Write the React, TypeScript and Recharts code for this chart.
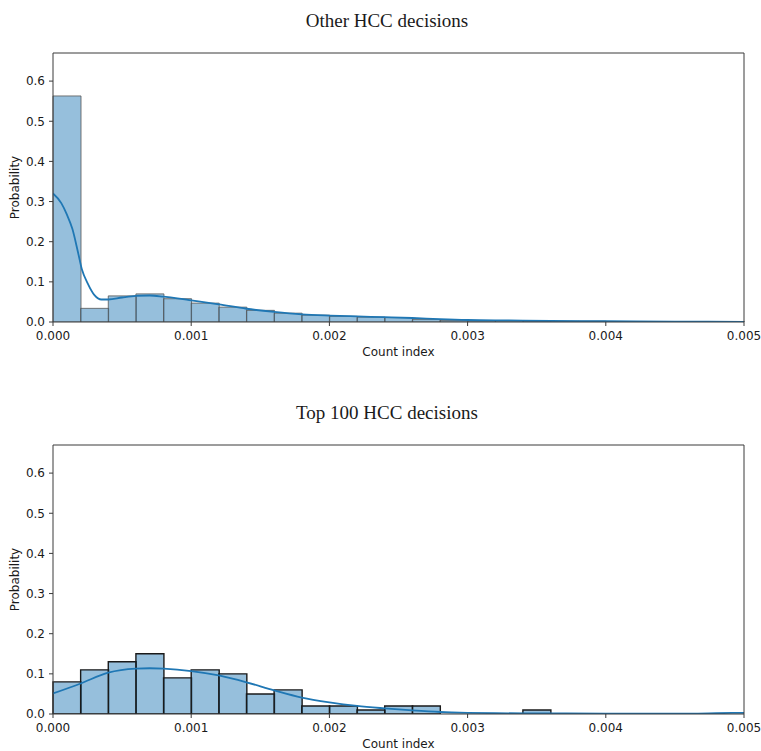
import React from 'react';
import { ComposedChart, Bar, Line, XAxis, YAxis } from 'recharts';

// histogram bins (left edges), width 0.0002
const binStarts = [
  0, 0.0002, 0.0004, 0.0006, 0.0008, 0.001, 0.0012, 0.0014, 0.0016, 0.0018,
  0.002, 0.0022, 0.0024, 0.0026, 0.0028, 0.003, 0.0032, 0.0034, 0.0036, 0.0038,
  0.004, 0.0042, 0.0044, 0.0046, 0.0048,
];

const otherHist = [
  0.563, 0.034, 0.065, 0.07, 0.058, 0.047, 0.037, 0.029, 0.022, 0.017,
  0.014, 0.012, 0.011, 0.006, 0.004, 0.003, 0.003, 0.002, 0.002, 0.002,
  0.001, 0.001, 0.001, 0.001, 0.001,
];

const top100Hist = [
  0.08, 0.11, 0.13, 0.15, 0.09, 0.11, 0.1, 0.05, 0.06, 0.02,
  0.02, 0.01, 0.02, 0.02, 0, 0, 0, 0.01, 0, 0,
  0, 0, 0, 0, 0,
];

// kde curves
const otherKdeX = [
  0, 0.00006, 0.0001, 0.00014, 0.00018, 0.00021, 0.00025, 0.0003, 0.00035, 0.0004,
  0.0005, 0.0006, 0.0007, 0.0008, 0.0009, 0.001, 0.0012, 0.0014, 0.0016, 0.0018,
  0.002, 0.0022, 0.0024, 0.0026, 0.0028, 0.003, 0.0033, 0.0036, 0.004, 0.0045, 0.005,
];
const otherKdeY = [
  0.32, 0.296, 0.268, 0.232, 0.175, 0.13, 0.097, 0.067, 0.056, 0.056,
  0.061, 0.065, 0.066, 0.063, 0.059, 0.054, 0.044, 0.033, 0.025, 0.019,
  0.016, 0.014, 0.012, 0.01, 0.007, 0.005, 0.004, 0.003, 0.002, 0.001, 0.0005,
];

const top100KdeX = [
  0, 0.0002, 0.0004, 0.0006, 0.0007, 0.0008, 0.001, 0.0012, 0.0014, 0.0016,
  0.0018, 0.002, 0.0022, 0.0024, 0.0026, 0.0028, 0.003, 0.0032, 0.0035, 0.004,
  0.0045, 0.0048, 0.005,
];
const top100KdeY = [
  0.051, 0.076, 0.103, 0.113, 0.114, 0.113, 0.107, 0.096, 0.079, 0.059,
  0.041, 0.029, 0.02, 0.014, 0.009, 0.005, 0.003, 0.002, 0.0015, 0.001,
  0.001, 0.002, 0.003,
];

const xTicks = [0, 0.001, 0.002, 0.003, 0.004, 0.005];
const yTicks = [0, 0.1, 0.2, 0.3, 0.4, 0.5, 0.6];

const W = 761;
const H = 362;
const FONT = '"DejaVu Sans", sans-serif';
const SPINE = '#3a3a3a';
const TEXT = '#1a1a1a';

const YLabel = (props: any) => {
  const vb = props.viewBox;
  const cx = vb.x + 15;
  const cy = vb.y + vb.height / 2;
  return (
    <text x={cx} y={cy} transform={`rotate(-90 ${cx} ${cy})`} textAnchor="middle"
      dominantBaseline="middle" fontFamily={FONT} fontSize={12} fill={TEXT}>
      Probability
    </text>
  );
};

const XLabel = (props: any) => {
  const vb = props.viewBox;
  return (
    <text x={vb.x + vb.width / 2} y={vb.y + 34} textAnchor="middle"
      fontFamily={FONT} fontSize={12} fill={TEXT}>
      Count index
    </text>
  );
};

type PanelProps = {
  title: string;
  hist: number[];
  kdeX: number[];
  kdeY: number[];
  edge: string;
  edgeWidth: number;
  top: number;
};

function Panel({ title, hist, kdeX, kdeY, edge, edgeWidth, top }: PanelProps) {
  const bars = binStarts.map((b, i) => ({ bin: b, p: hist[i] }));
  const kde = kdeX.map((x, i) => ({ x, y: kdeY[i] }));
  const tickStyle = { fontFamily: FONT, fontSize: 12, fill: TEXT };
  return (
    <div style={{ position: 'absolute', left: 0, top, width: W, height: 392 }}>
      <div style={{
        position: 'absolute', top: 10, left: 187, width: 400, textAlign: 'center',
        fontFamily: '"Liberation Serif", "Times New Roman", serif', fontSize: 19, color: TEXT,
      }}>
        {title}
      </div>
      <ComposedChart width={W} height={H} data={bars} barCategoryGap={0} barGap={0}
        margin={{ top: 52, right: 16, bottom: 0, left: 0 }}>
        <XAxis xAxisId="x" dataKey="x" type="number" domain={[0, 0.005]} allowDataOverflow
          ticks={xTicks} tickFormatter={(v: number) => v.toFixed(3)} height={40}
          tick={tickStyle} tickSize={4} tickMargin={5}
          axisLine={{ stroke: SPINE }} tickLine={{ stroke: SPINE }} label={XLabel} />
        {/* bin axis doubles as the top spine */}
        <XAxis xAxisId="bins" dataKey="bin" type="category" orientation="top" height={1}
          tick={false} tickLine={false} axisLine={{ stroke: SPINE }} />
        <YAxis yAxisId="p" type="number" domain={[0, 0.67]} allowDataOverflow ticks={yTicks}
          tickFormatter={(v: number) => v.toFixed(1)} width={53}
          tick={tickStyle} tickSize={4} tickMargin={4}
          axisLine={{ stroke: SPINE }} tickLine={{ stroke: SPINE }} label={YLabel} />
        {/* same scale on the right, draws the right spine */}
        <YAxis yAxisId="r" orientation="right" type="number" domain={[0, 0.67]} allowDataOverflow
          width={1} tick={false} tickLine={false} axisLine={{ stroke: SPINE }} />
        <Bar xAxisId="bins" yAxisId="p" dataKey="p" fill="#1f77b4" fillOpacity={0.47}
          stroke={edge} strokeWidth={edgeWidth} isAnimationActive={false} />
        <Line xAxisId="x" yAxisId="r" data={kde} dataKey="y" type="monotone"
          stroke="#1f77b4" strokeWidth={1.8} dot={false} activeDot={false}
          isAnimationActive={false} />
      </ComposedChart>
    </div>
  );
}

export default function App() {
  return (
    <div style={{ position: 'absolute', left: 0, top: 0, width: W, height: 751, background: '#fff' }}>
      <Panel title="Other HCC decisions" hist={otherHist} kdeX={otherKdeX} kdeY={otherKdeY}
        edge="#555" edgeWidth={0.8} top={0} />
      <Panel title="Top 100 HCC decisions" hist={top100Hist} kdeX={top100KdeX} kdeY={top100KdeY}
        edge="#1a1a1a" edgeWidth={1.4} top={392} />
    </div>
  );
}
